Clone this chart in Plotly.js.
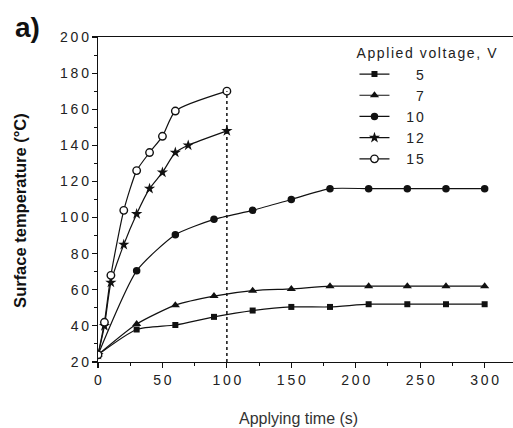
<!DOCTYPE html>
<html>
<head>
<meta charset="utf-8">
<script src="https://cdn.plot.ly/plotly-3.0.1.min.js"></script>
<style>
html, body { margin: 0; padding: 0; background: #fff; }
#chart { width: 513px; height: 428px; }
.legendtext { letter-spacing: 2px !important; }
.legendtitletext { letter-spacing: 1.6px !important; }
</style>
</head>
<body>
<div id="chart"></div>
<script>
// Data
const t5  = [0, 30, 60, 90, 120, 150, 180, 210, 240, 270, 300];
const v5  = [24, 38, 40.5, 45, 48.5, 50.5, 50.5, 52, 52, 52, 52];
const t7  = [0, 30, 60, 90, 120, 150, 180, 210, 240, 270, 300];
const v7  = [24, 41, 51.5, 56.5, 59.5, 60.5, 62, 62, 62, 62, 62];
const t10 = [0, 30, 60, 90, 120, 150, 180, 210, 240, 270, 300];
const v10 = [24, 70.5, 90.5, 99, 104, 110, 116, 116, 116, 116, 116];
const t12 = [0, 5, 10, 20, 30, 40, 50, 60, 70, 100];
const v12 = [24, 40, 64, 85, 102, 116, 125, 136, 140, 148];
const t15 = [0, 5, 10, 20, 30, 40, 50, 60, 100];
const v15 = [24, 42, 68, 104, 126, 136, 145, 159, 170];

const seriesNames = ['\u00A0\u00A0\u20075', '\u00A0\u00A0\u20077', '\u00A0\u00A010', '\u00A0\u00A012', '\u00A0\u00A015'];
const xTicks = [0, 50, 100, 150, 200, 250, 300];
const yTicks = [20, 40, 60, 80, 100, 120, 140, 160, 180, 200];
const spaced = v => String(v).split('').join('\u2009');

const black = '#111';
function tr(x, y, name, symbol, size, open) {
  return {
    x: x, y: y, name: name, type: 'scatter', mode: 'lines+markers',
    line: { color: black, width: 1.2, shape: 'spline', smoothing: 0.6 },
    marker: {
      symbol: symbol, size: size, color: open ? '#fff' : black,
      line: { color: black, width: open ? 1.4 : 0 }
    }
  };
}

const data = [
  tr(t5, v5, seriesNames[0], 'square', 6, false),
  tr(t7, v7, seriesNames[1], 'triangle-up', 8, false),
  tr(t10, v10, seriesNames[2], 'circle', 7.5, false),
  tr(t12, v12, seriesNames[3], 'star', 8.5, false),
  tr(t15, v15, seriesNames[4], 'circle', 7.5, true)
];

const yMin = 20, yMax = 200;
const layout = {
  width: 513, height: 428,
  margin: { l: 98, r: 0, t: 37, b: 66 },
  paper_bgcolor: '#fff', plot_bgcolor: '#fff',
  font: { family: 'Liberation Sans, Arial, sans-serif', color: '#222' },
  showlegend: true,
  legend: {
    x: 0.618, y: 0.99, xanchor: 'left', yanchor: 'top',
    bgcolor: 'rgba(0,0,0,0)',
    font: { size: 14, color: '#222' },
    title: { text: 'Applied voltage, V', font: { size: 14, color: '#222' } },
    itemwidth: 30, tracegroupgap: 0
  },
  xaxis: {
    range: [0, 322], showgrid: false, zeroline: false,
    showline: true, linecolor: black, linewidth: 1.2, mirror: true,
    ticks: 'outside', ticklen: 5, tickwidth: 1.2, tickcolor: black,
    tickvals: xTicks, ticktext: xTicks.map(spaced),
    tickfont: { size: 14, color: '#222' },
    minor: { dtick: 25, ticks: 'outside', ticklen: 3, tickwidth: 1, tickcolor: black, showgrid: false }
  },
  yaxis: {
    range: [yMin, yMax], showgrid: false, zeroline: false,
    showline: true, linecolor: black, linewidth: 1.2,
    ticks: 'outside', ticklen: 5, tickwidth: 1.2, tickcolor: black,
    tickvals: yTicks, ticktext: yTicks.map(spaced),
    tickfont: { size: 14, color: '#222' },
    minor: { dtick: 10, ticks: 'outside', ticklen: 3, tickwidth: 1, tickcolor: black, showgrid: false }
  },
  shapes: [{
    type: 'line', xref: 'x', yref: 'y',
    x0: t15[t15.length - 1], x1: t15[t15.length - 1],
    y0: yMin, y1: v15[v15.length - 1],
    line: { color: black, width: 1.5, dash: 'dot' }
  }],
  annotations: [
    { text: '<b>a)</b>', xref: 'paper', yref: 'paper', x: -0.171, y: 1.03,
      xanchor: 'center', yanchor: 'middle', showarrow: false,
      font: { size: 28, color: '#111' } },
    { text: '<b>Surface temperature (\u00B0C)</b>', xref: 'paper', yref: 'paper',
      x: -0.188, y: 0.468, xanchor: 'center', yanchor: 'middle', textangle: -90,
      showarrow: false, font: { size: 16.5, color: '#111' } },
    { text: 'Applying time (s)', xref: 'paper', yref: 'paper',
      x: 0.484, y: -0.175, xanchor: 'center', yanchor: 'middle',
      showarrow: false, font: { size: 16, color: '#333' } }
  ]
};

Plotly.newPlot('chart', data, layout, { displayModeBar: false, staticPlot: true });
</script>
</body>
</html>
